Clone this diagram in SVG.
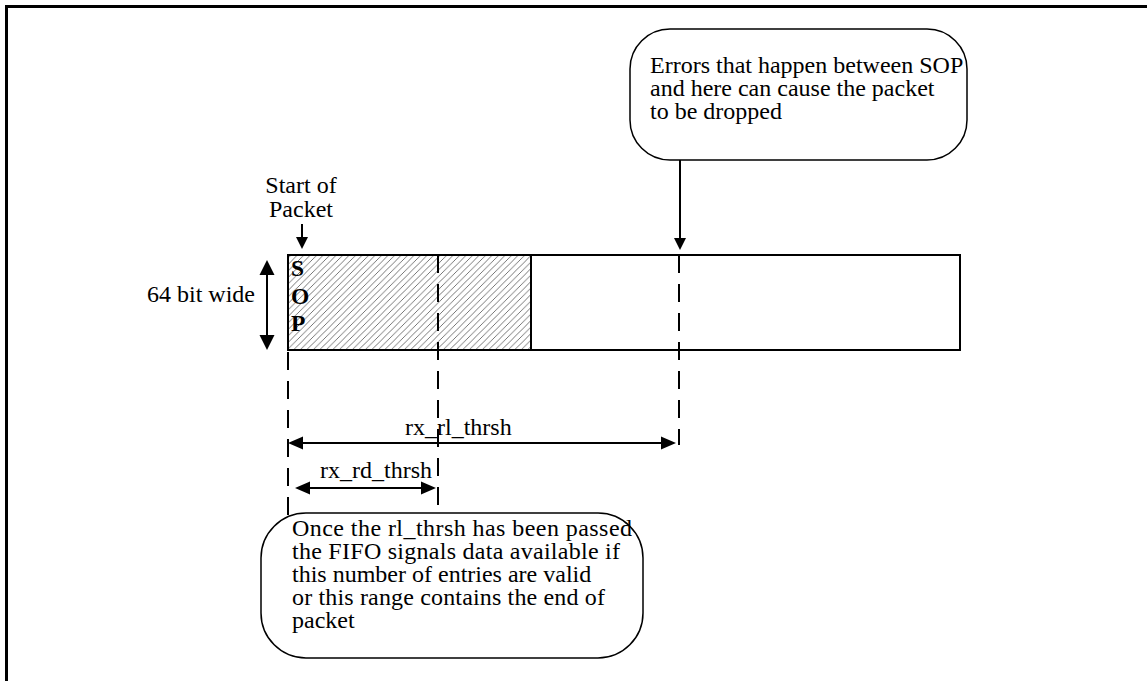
<svg xmlns="http://www.w3.org/2000/svg" width="1147" height="681" viewBox="0 0 1147 681">
<defs>
<style>
.t{font-family:"Liberation Serif","Times New Roman",serif;font-size:24px;fill:#000}
.b{font-family:"Liberation Serif","Times New Roman",serif;font-size:23.5px;font-weight:bold;fill:#000}
.ln{stroke:#000;stroke-width:2;fill:none}
.dash{stroke:#000;stroke-width:2;fill:none;stroke-dasharray:18 11}
.bub{fill:#fff;stroke:#000;stroke-width:1.5}
.ah{fill:#000}
</style>
<pattern id="hatch" patternUnits="userSpaceOnUse" width="6.5" height="6.5">
<path d="M0,6.5 L6.5,0" stroke="#555" stroke-width="0.8"/>
</pattern>
</defs>
<rect width="1147" height="681" fill="#fff"/>
<g id="frame">
<path d="M6.5,681 L6.5,6.5 L1147,6.5" fill="none" stroke="#000" stroke-width="3"/>
</g>
<g id="buffer">
<rect x="288" y="255" width="243" height="95" fill="url(#hatch)"/>
<rect x="288" y="255" width="672" height="95" class="ln"/>
<line x1="531" y1="255" x2="531" y2="350" class="ln"/>
<text class="b" x="291" y="276">S</text>
<text class="b" x="291" y="304">O</text>
<text class="b" x="291" y="331">P</text>
</g>
<g id="connectors">
<line x1="288" y1="350" x2="288" y2="518" class="dash" stroke-dashoffset="-2"/>
<line x1="438" y1="255" x2="438" y2="510" class="dash"/>
<line x1="679" y1="255" x2="679" y2="445" class="dash"/>
<line x1="680" y1="160" x2="680" y2="240" class="ln"/>
<path class="ah" d="M674,238 L686,238 L680,250 Z"/>
<line x1="302" y1="224" x2="302" y2="238" class="ln"/>
<path class="ah" d="M296,237 L308,237 L302,249 Z"/>
<line x1="267" y1="272" x2="267" y2="338" class="ln"/>
<path class="ah" d="M267,260 L274.5,275 L259.5,275 Z"/>
<path class="ah" d="M267,350 L274.5,335 L259.5,335 Z"/>
<line x1="300" y1="443" x2="664" y2="443" class="ln"/>
<path class="ah" d="M288,443 L303,436.5 L303,449.5 Z"/>
<path class="ah" d="M676,443 L661,436.5 L661,449.5 Z"/>
<line x1="307" y1="488" x2="424" y2="488" class="ln"/>
<path class="ah" d="M295,488 L310,481.5 L310,494.5 Z"/>
<path class="ah" d="M436,488 L421,481.5 L421,494.5 Z"/>
</g>
<g id="labels">
<text class="t" x="301" y="193" text-anchor="middle">Start of</text>
<text class="t" x="301" y="217" text-anchor="middle">Packet</text>
<text class="t" x="147" y="302">64 bit wide</text>
<text class="t" x="405" y="435">rx_rl_thrsh</text>
<text class="t" x="320" y="478">rx_rd_thrsh</text>
</g>
<g id="note-errors">
<rect class="bub" x="630" y="29" width="337" height="131" rx="40" ry="40"/>
<text class="t" x="650" y="73">Errors that happen between SOP</text>
<text class="t" x="650" y="96">and here can cause the packet</text>
<text class="t" x="650" y="119">to be dropped</text>
</g>
<g id="note-fifo">
<rect class="bub" x="261" y="513" width="382" height="145" rx="45" ry="45"/>
<text class="t" x="292" y="536" textLength="340" lengthAdjust="spacing">Once the rl_thrsh has been passed</text>
<text class="t" x="292" y="559" textLength="328" lengthAdjust="spacing">the FIFO signals data available if</text>
<text class="t" x="292" y="582">this number of entries are valid</text>
<text class="t" x="292" y="605" textLength="313" lengthAdjust="spacing">or this range contains the end of</text>
<text class="t" x="292" y="628">packet</text>
</g>
</svg>
